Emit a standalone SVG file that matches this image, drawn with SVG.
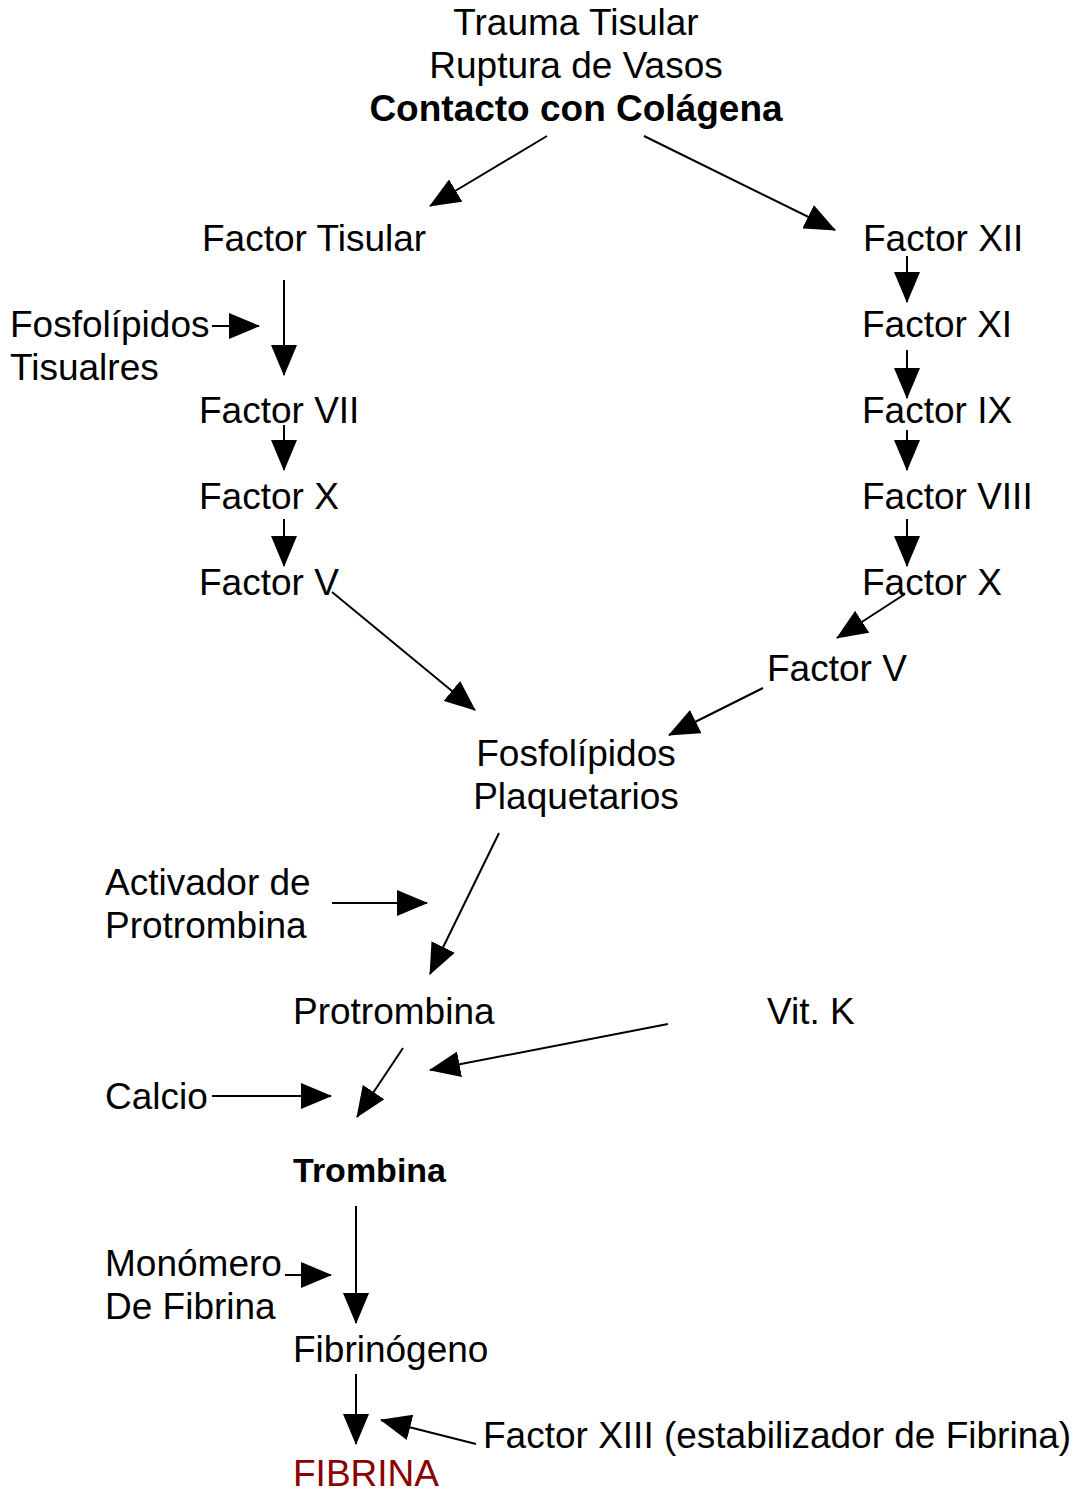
<svg xmlns="http://www.w3.org/2000/svg" width="1082" height="1494" viewBox="0 0 1082 1494">
<style>
text{font-family:"Liberation Sans",Arial,sans-serif;font-size:37px;fill:#000}
.b{font-weight:bold}
.c{text-anchor:middle}
.red{fill:#8b0000}
.e line{stroke:#000;stroke-width:2;marker-end:url(#ah)}
</style>
<defs>
<marker id="ah" markerUnits="userSpaceOnUse" markerWidth="31" markerHeight="26" refX="30" refY="13" orient="auto" viewBox="0 0 31 26">
<path d="M0,0 L31,13 L0,26 z" fill="#000"/>
</marker>
</defs>
<g id="n-origen"><text x="576" y="35" class="c">Trauma Tisular</text><text x="576" y="78" class="c">Ruptura de Vasos</text><text x="576" y="121" class="c b">Contacto con Colágena</text></g>
<g id="n-ftisular"><text x="202" y="251">Factor Tisular</text></g>
<g id="n-fostis"><text x="10" y="337">Fosfolípidos</text><text x="10" y="380">Tisualres</text></g>
<g id="n-f7"><text x="199" y="423">Factor VII</text></g>
<g id="n-f10a"><text x="199" y="509">Factor X</text></g>
<g id="n-f5a"><text x="199" y="595">Factor V</text></g>
<g id="n-f12"><text x="863" y="251">Factor XII</text></g>
<g id="n-f11"><text x="862" y="337">Factor XI</text></g>
<g id="n-f9"><text x="862" y="423">Factor IX</text></g>
<g id="n-f8"><text x="862" y="509">Factor VIII</text></g>
<g id="n-f10b"><text x="862" y="595">Factor X</text></g>
<g id="n-f5b"><text x="767" y="681">Factor V</text></g>
<g id="n-fosplaq"><text x="576" y="766" class="c">Fosfolípidos</text><text x="576" y="809" class="c">Plaquetarios</text></g>
<g id="n-activador"><text x="105" y="895">Activador de</text><text x="105" y="938">Protrombina</text></g>
<g id="n-protrombina"><text x="293" y="1024">Protrombina</text></g>
<g id="n-vitk"><text x="767" y="1024">Vit. K</text></g>
<g id="n-calcio"><text x="105" y="1109">Calcio</text></g>
<g id="n-trombina"><text x="293" y="1182" class="b" style="font-size:34px">Trombina</text></g>
<g id="n-monomero"><text x="105" y="1276">Monómero</text><text x="105" y="1319">De Fibrina</text></g>
<g id="n-fibrinogeno"><text x="293" y="1362">Fibrinógeno</text></g>
<g id="n-f13"><text x="483" y="1448">Factor XIII (estabilizador de Fibrina)</text></g>
<g id="n-fibrina"><text x="293" y="1486" class="red">FIBRINA</text></g>
<g id="edges" class="e">
<line x1="547" y1="136" x2="430" y2="206"/>
<line x1="644" y1="136" x2="835" y2="230"/>
<line x1="284" y1="280" x2="284" y2="375"/>
<line x1="212" y1="326" x2="259" y2="326"/>
<line x1="284" y1="425" x2="284" y2="470"/>
<line x1="284" y1="519" x2="284" y2="566"/>
<line x1="332" y1="592" x2="475" y2="710"/>
<line x1="907" y1="256" x2="907" y2="302"/>
<line x1="907" y1="350" x2="907" y2="398"/>
<line x1="907" y1="430" x2="907" y2="470"/>
<line x1="907" y1="519" x2="907" y2="566"/>
<line x1="905" y1="594" x2="837" y2="638"/>
<line x1="763" y1="688" x2="669" y2="735"/>
<line x1="499" y1="833" x2="430" y2="974"/>
<line x1="332" y1="903" x2="427" y2="903"/>
<line x1="403" y1="1048" x2="357" y2="1117"/>
<line x1="668" y1="1024" x2="430" y2="1070"/>
<line x1="212" y1="1096" x2="331" y2="1096"/>
<line x1="356" y1="1206" x2="356" y2="1323"/>
<line x1="285" y1="1275" x2="331" y2="1275"/>
<line x1="356" y1="1374" x2="356" y2="1444"/>
<line x1="476" y1="1444" x2="381" y2="1420"/>
</g>
</svg>
